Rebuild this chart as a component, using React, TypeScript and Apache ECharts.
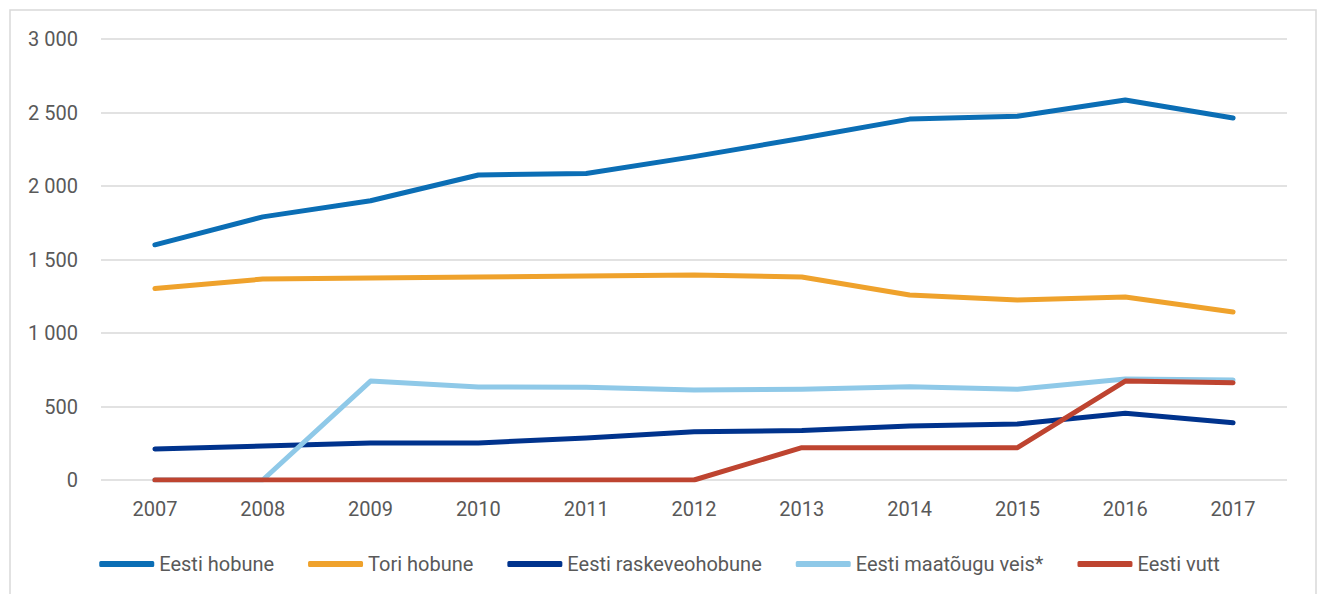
import React, { useEffect, useRef } from "react";
import * as echarts from "echarts";

const years = ["2007", "2008", "2009", "2010", "2011", "2012", "2013", "2014", "2015", "2016", "2017"];
const eestiHobune = [1600, 1790, 1900, 2075, 2085, 2200, 2325, 2455, 2475, 2585, 2462];
const toriHobune = [1302, 1367, 1374, 1381, 1388, 1395, 1381, 1259, 1224, 1245, 1143];
const raskeveohobune = [211, 231, 252, 252, 286, 329, 336, 367, 381, 454, 390];
const maatouguVeis = [0, 0, 673, 633, 631, 612, 617, 635, 617, 687, 680];
const eestiVutt = [0, 0, 0, 0, 0, 0, 220, 220, 220, 673, 662];

const seriesNames = ["Eesti hobune", "Tori hobune", "Eesti raskeveohobune", "Eesti maatõugu veis*", "Eesti vutt"];
const seriesData = [eestiHobune, toriHobune, raskeveohobune, maatouguVeis, eestiVutt];
const colors = ["#0B6EB5", "#EFA22C", "#00338D", "#8FC9E8", "#BE4430"];

const FONT = "Roboto, 'Noto Sans', sans-serif";

export default function App() {
  const ref = useRef<HTMLDivElement>(null);
  useEffect(() => {
    if (!ref.current) return;
    const chart = echarts.init(ref.current, undefined, { renderer: "svg" });
    chart.setOption({
      animation: false,
      backgroundColor: "#ffffff",
      color: colors,
      textStyle: { fontFamily: FONT },
      graphic: [
        {
          type: "rect",
          shape: { x: 10, y: 10, width: 1306, height: 600 },
          style: { fill: "none", stroke: "#d9d9d9", lineWidth: 1.5 },
          silent: true,
        },
      ],
      grid: { left: 101, right: 32, top: 39, bottom: 114, containLabel: false },
      legend: {
        top: 549,
        left: "center",
        itemWidth: 55,
        itemHeight: 6,
        itemGap: 34,
        icon: "roundRect",
        textStyle: { fontFamily: FONT, fontSize: 20, color: "#595959" },
        data: seriesNames,
      },
      xAxis: {
        type: "category",
        data: years,
        boundaryGap: true,
        axisLine: { show: false },
        axisTick: { show: false },
        axisLabel: { fontFamily: FONT, fontSize: 20, color: "#595959", margin: 19 },
      },
      yAxis: {
        type: "value",
        min: 0,
        max: 3000,
        interval: 500,
        axisLine: { show: false },
        axisTick: { show: false },
        splitLine: { lineStyle: { color: "#d9d9d9", width: 1.5 } },
        axisLabel: {
          fontFamily: FONT,
          fontSize: 20,
          color: "#595959",
          margin: 23,
          formatter: (v: number) => String(v).replace(/\B(?=(\d{3})+(?!\d))/g, " "),
        },
      },
      series: seriesNames.map((name, i) => ({
        name,
        type: "line",
        data: seriesData[i],
        symbol: "none",
        showSymbol: false,
        lineStyle: { width: 5, cap: "round", join: "round", color: colors[i] },
        itemStyle: { color: colors[i] },
        z: 2 + i,
      })),
    });
    return () => chart.dispose();
  }, []);
  return (
    <div
      ref={ref}
      style={{ position: "fixed", left: 0, top: 0, width: 1319, height: 594 }}
    />
  );
}
